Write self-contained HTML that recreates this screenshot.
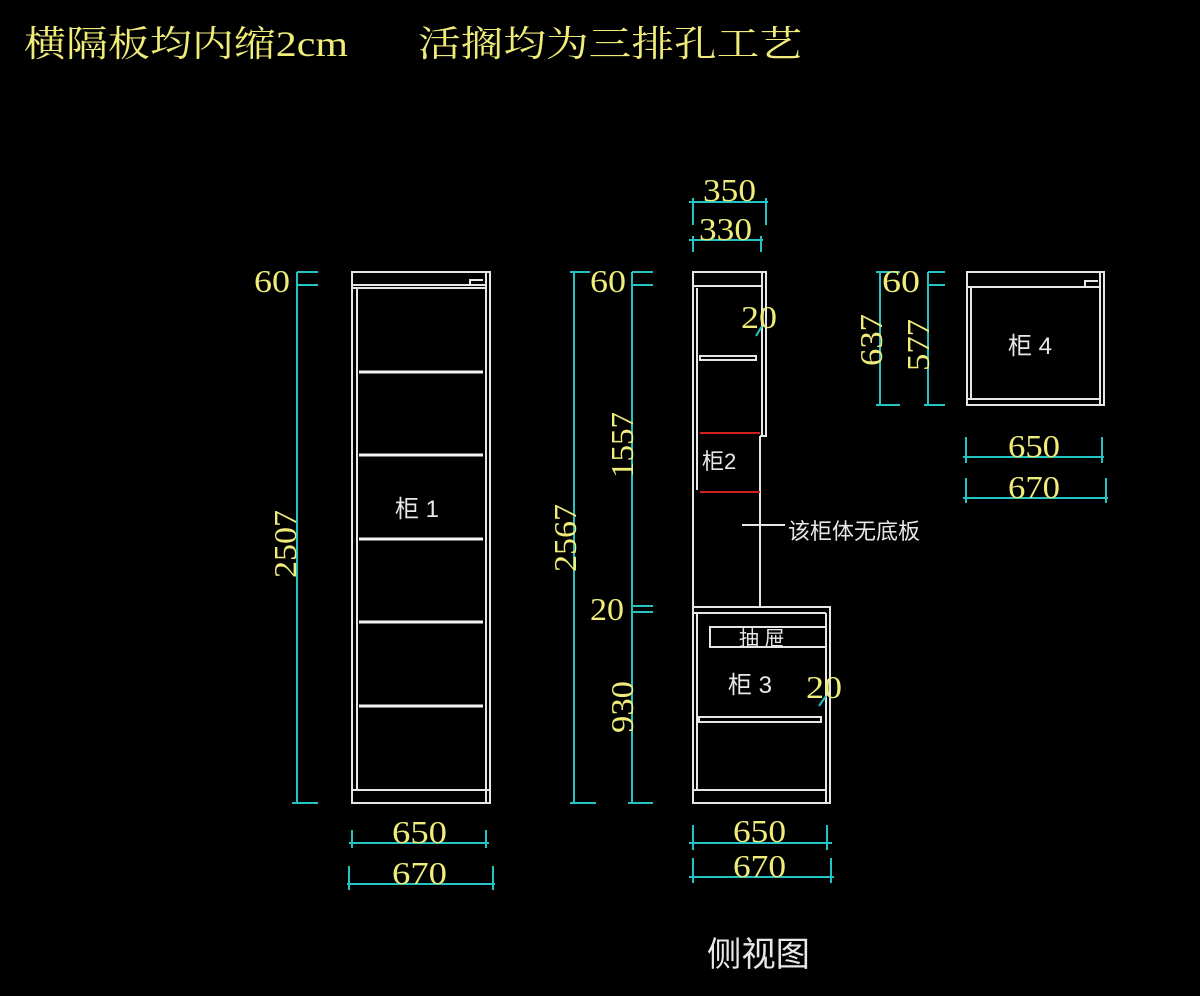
<!DOCTYPE html>
<html><head><meta charset="utf-8"><style>
html,body{margin:0;padding:0;background:#000;width:1200px;height:996px;overflow:hidden}
svg{display:block}
.y{fill:#f0ec7a;font-family:"Liberation Serif","Noto Serif CJK SC",serif}
.w{fill:#e8e8e8;font-family:"Liberation Sans","Noto Sans CJK SC",sans-serif}
</style></head><body>
<svg width="1200" height="996" viewBox="0 0 1200 996">
<text class="y" x="24" y="56" font-size="36" textLength="324" lengthAdjust="spacingAndGlyphs" font-family="'Noto Serif CJK SC',serif">横隔板均内缩2cm</text>
<text class="y" x="418" y="56" font-size="36" textLength="384" lengthAdjust="spacingAndGlyphs" font-family="'Noto Serif CJK SC',serif">活搁均为三排孔工艺</text>

<g stroke="#e6e6e6" stroke-width="2" fill="none">
<rect x="352" y="272" width="138" height="531"/>
<line x1="486" y1="272" x2="486" y2="803"/>
<line x1="352" y1="285" x2="486" y2="285"/>
<line x1="352" y1="288" x2="486" y2="288"/>
<line x1="357" y1="288" x2="357" y2="790"/>
<line x1="352" y1="790" x2="490" y2="790"/>
<polyline points="470,285 470,280 483,280"/>
</g>
<g stroke="#f4f4f4" stroke-width="3">
<line x1="359" y1="372" x2="483" y2="372"/><line x1="359" y1="455" x2="483" y2="455"/>
<line x1="359" y1="539" x2="483" y2="539"/><line x1="359" y1="622" x2="483" y2="622"/>
<line x1="359" y1="706" x2="483" y2="706"/>
</g>
<text class="w" x="395" y="517" font-size="24">柜 1</text>

<g stroke="#e6e6e6" stroke-width="2" fill="none">
<polyline points="693,803 693,272 766,272 766,436 760,436"/>
<line x1="762" y1="272" x2="762" y2="436"/>
<line x1="693" y1="286" x2="762" y2="286"/>
<line x1="697" y1="288" x2="697" y2="490"/>
<line x1="760" y1="436" x2="760" y2="607"/>
<rect x="700" y="356" width="56" height="4"/>
<rect x="693" y="607" width="137" height="196"/>
<line x1="693" y1="613" x2="826" y2="613"/>
<line x1="697" y1="613" x2="697" y2="790"/>
<line x1="826" y1="613" x2="826" y2="803"/>
<rect x="710" y="627" width="116" height="20"/>
<rect x="699" y="717" width="122" height="5"/>
<line x1="693" y1="790" x2="826" y2="790"/>
<line x1="742" y1="525" x2="785" y2="525"/>
</g>
<g stroke="#d02020" stroke-width="2">
<line x1="700" y1="433" x2="760" y2="433"/><line x1="700" y1="492" x2="760" y2="492"/>
</g>
<text class="w" x="702" y="469" font-size="22">柜2</text>
<text class="w" x="739" y="645" font-size="20">抽  屉</text>
<text class="w" x="728" y="693" font-size="24">柜 3</text>
<text class="w" x="788" y="539" font-size="22">该柜体无底板</text>

<g stroke="#e6e6e6" stroke-width="2" fill="none">
<rect x="967" y="272" width="137" height="133"/>
<line x1="1100" y1="272" x2="1100" y2="405"/>
<line x1="967" y1="287" x2="1100" y2="287"/>
<line x1="967" y1="399" x2="1100" y2="399"/>
<line x1="971" y1="287" x2="971" y2="399"/>
<polyline points="1085,287 1085,281 1098,281"/>
</g>
<text class="w" x="1008" y="354" font-size="24">柜 4</text>

<g stroke="#25c4c4" stroke-width="2" fill="none">
<line x1="297" y1="272" x2="297" y2="803"/><line x1="297" y1="272" x2="318" y2="272"/><line x1="297" y1="285" x2="318" y2="285"/><line x1="292" y1="803" x2="318" y2="803"/>
<line x1="349" y1="843" x2="489" y2="843"/><line x1="352" y1="830" x2="352" y2="848"/><line x1="486" y1="830" x2="486" y2="848"/>
<line x1="347" y1="884" x2="495" y2="884"/><line x1="349" y1="866" x2="349" y2="890"/><line x1="493" y1="866" x2="493" y2="890"/>
<line x1="574" y1="272" x2="574" y2="803"/><line x1="570" y1="272" x2="590" y2="272"/><line x1="570" y1="803" x2="596" y2="803"/>
<line x1="632" y1="272" x2="632" y2="803"/><line x1="632" y1="272" x2="653" y2="272"/><line x1="632" y1="285" x2="653" y2="285"/><line x1="632" y1="606" x2="653" y2="606"/><line x1="632" y1="612" x2="653" y2="612"/><line x1="628" y1="803" x2="653" y2="803"/>
<line x1="689" y1="202" x2="768" y2="202"/><line x1="693" y1="198" x2="693" y2="225"/><line x1="766" y1="198" x2="766" y2="225"/>
<line x1="689" y1="240" x2="763" y2="240"/><line x1="693" y1="236" x2="693" y2="252"/><line x1="761" y1="236" x2="761" y2="252"/>
<line x1="689" y1="843" x2="832" y2="843"/><line x1="693" y1="825" x2="693" y2="850"/><line x1="827" y1="825" x2="827" y2="850"/>
<line x1="689" y1="877" x2="834" y2="877"/><line x1="693" y1="858" x2="693" y2="883"/><line x1="831" y1="858" x2="831" y2="883"/>
<line x1="880" y1="272" x2="880" y2="405"/><line x1="876" y1="272" x2="900" y2="272"/><line x1="876" y1="405" x2="900" y2="405"/>
<line x1="928" y1="272" x2="928" y2="405"/><line x1="928" y1="272" x2="945" y2="272"/><line x1="928" y1="285" x2="945" y2="285"/><line x1="924" y1="405" x2="945" y2="405"/>
<line x1="963" y1="457" x2="1104" y2="457"/><line x1="966" y1="437" x2="966" y2="463"/><line x1="1102" y1="437" x2="1102" y2="463"/>
<line x1="963" y1="498" x2="1108" y2="498"/><line x1="966" y1="478" x2="966" y2="503"/><line x1="1106" y1="478" x2="1106" y2="503"/>
<line x1="756" y1="336" x2="762" y2="326"/><line x1="819" y1="706" x2="826" y2="696"/>
</g>
<g class="y" font-size="32">
<text lengthAdjust="spacingAndGlyphs" x="254" y="292" textLength="36">60</text>
<text lengthAdjust="spacingAndGlyphs" x="590" y="292" textLength="36">60</text>
<text lengthAdjust="spacingAndGlyphs" x="590" y="620" textLength="34">20</text>
<text lengthAdjust="spacingAndGlyphs" x="882" y="292" textLength="38">60</text>
<text lengthAdjust="spacingAndGlyphs" x="703" y="201" textLength="53">350</text>
<text lengthAdjust="spacingAndGlyphs" x="699" y="240" textLength="53">330</text>
<text lengthAdjust="spacingAndGlyphs" x="741" y="328" textLength="36">20</text>
<text lengthAdjust="spacingAndGlyphs" x="806" y="698" textLength="36">20</text>
<text lengthAdjust="spacingAndGlyphs" x="392" y="843" textLength="55">650</text>
<text lengthAdjust="spacingAndGlyphs" x="392" y="884" textLength="55">670</text>
<text lengthAdjust="spacingAndGlyphs" x="733" y="842" textLength="53">650</text>
<text lengthAdjust="spacingAndGlyphs" x="733" y="877" textLength="53">670</text>
<text lengthAdjust="spacingAndGlyphs" x="1008" y="457" textLength="52">650</text>
<text lengthAdjust="spacingAndGlyphs" x="1008" y="498" textLength="52">670</text>
<text lengthAdjust="spacingAndGlyphs" transform="translate(296,578) rotate(-90)" textLength="68">2507</text>
<text lengthAdjust="spacingAndGlyphs" transform="translate(576,572) rotate(-90)" textLength="68">2567</text>
<text lengthAdjust="spacingAndGlyphs" transform="translate(633,478) rotate(-90)" textLength="66">1557</text>
<text lengthAdjust="spacingAndGlyphs" transform="translate(633,733) rotate(-90)" textLength="52">930</text>
<text lengthAdjust="spacingAndGlyphs" transform="translate(882,366) rotate(-90)" textLength="52">637</text>
<text lengthAdjust="spacingAndGlyphs" transform="translate(929,371) rotate(-90)" textLength="52">577</text>
</g>
<text class="w" x="707" y="966" font-size="34" textLength="103" lengthAdjust="spacingAndGlyphs">侧视图</text>
</svg>
</body></html>
